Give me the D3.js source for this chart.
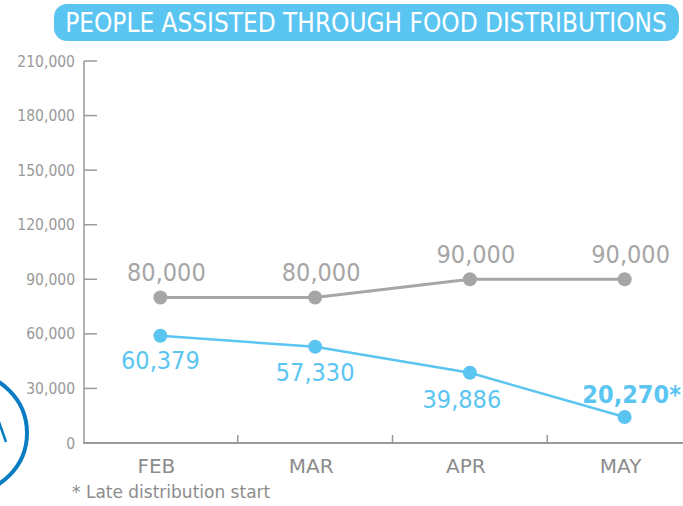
<!DOCTYPE html>
<html>
<head>
<meta charset="utf-8">
<script src="https://cdn.jsdelivr.net/npm/d3@7/dist/d3.min.js"></script>
<style>
html,body{margin:0;padding:0;background:#fff;}
svg{display:block;font-family:"DejaVu Sans Condensed","DejaVu Sans",sans-serif;}
</style>
</head>
<body>
<svg id="chart" width="683" height="506"></svg>
<script>
const title = "PEOPLE ASSISTED THROUGH FOOD DISTRIBUTIONS";
const months = ["FEB", "MAR", "APR", "MAY"];
const greyValues = [80000, 80000, 90000, 90000];
const greyLabels = ["80,000", "80,000", "90,000", "90,000"];
const blueValues = [59000, 52900, 38600, 14300];
const blueLabels = ["60,379", "57,330", "39,886", "20,270*"];
const yTicks = [0, 30000, 60000, 90000, 120000, 150000, 180000, 210000];
const footnote = "* Late distribution start";

const svg = d3.select("#chart");
const grey = "#a6a6a6", blue = "#5bc5f2", axisCol = "#9a9a9a", textGrey = "#8c8c8c";

const x = d3.scaleBand().domain(months).range([83, 702]).padding(0);
const y = d3.scaleLinear().domain([0, 210000]).range([443, 61]);

// logo fragment
svg.append("circle").attr("cx", -33).attr("cy", 433).attr("r", 60)
  .attr("fill", "none").attr("stroke", "#0a7dc2").attr("stroke-width", 4);
svg.append("line").attr("x1", -1).attr("y1", 422).attr("x2", 6).attr("y2", 442)
  .attr("stroke", "#0a7dc2").attr("stroke-width", 2.5);

// title
svg.append("rect").attr("x", 54).attr("y", 4).attr("width", 625).attr("height", 37)
  .attr("rx", 13).attr("fill", blue);
const tt = svg.append("text").attr("x", 366).attr("y", 32).attr("text-anchor", "middle")
  .attr("fill", "#fff").attr("font-size", 25).text(title);
const tw = tt.node().getComputedTextLength();
tt.attr("font-size", 25 * 602 / tw);

// y axis
const yAxis = svg.append("g");
yAxis.append("line").attr("x1", 84).attr("x2", 84).attr("y1", y(210000)).attr("y2", 443)
  .attr("stroke", axisCol).attr("stroke-width", 1.5);
yAxis.selectAll("line.tick").data(yTicks.filter(d => d > 0)).join("line")
  .attr("class", "tick").attr("x1", 84).attr("x2", 97)
  .attr("y1", d => y(d)).attr("y2", d => y(d))
  .attr("stroke", axisCol).attr("stroke-width", 1.5);
yAxis.selectAll("text").data(yTicks).join("text")
  .attr("x", 75).attr("y", d => y(d)).attr("dy", "0.36em")
  .attr("text-anchor", "end").attr("font-size", 15.5).attr("fill", "#999")
  .text(d => d3.format(",")(d));

// x axis
const xAxis = svg.append("g");
xAxis.append("line").attr("x1", 83).attr("x2", 683).attr("y1", 443).attr("y2", 443)
  .attr("stroke", axisCol).attr("stroke-width", 2);
xAxis.selectAll("line.tick").data(months.slice(1)).join("line")
  .attr("class", "tick").attr("x1", d => x(d)).attr("x2", d => x(d))
  .attr("y1", 435).attr("y2", 443).attr("stroke", axisCol).attr("stroke-width", 1.5);
xAxis.selectAll("text").data(months).join("text")
  .attr("x", d => x(d) + x.bandwidth() / 2 - 4).attr("y", 473)
  .attr("text-anchor", "middle").attr("font-size", 20)
  .attr("font-family", "'DejaVu Sans',sans-serif").attr("fill", textGrey)
  .text(d => d);

const cx = d => x(d) + x.bandwidth() / 2;
const line = d3.line().x(d => cx(d[0])).y(d => y(d[1]));

// grey series
const gData = months.map((m, i) => [m, greyValues[i]]);
svg.append("path").attr("d", line(gData)).attr("fill", "none")
  .attr("stroke", grey).attr("stroke-width", 3);
svg.selectAll("circle.g").data(gData).join("circle").attr("class", "g")
  .attr("cx", d => cx(d[0])).attr("cy", d => y(d[1])).attr("r", 7).attr("fill", grey);
svg.selectAll("text.gl").data(gData).join("text").attr("class", "gl")
  .attr("x", d => cx(d[0]) + 6).attr("y", d => y(d[1]) - 16)
  .attr("text-anchor", "middle").attr("font-size", 25).attr("fill", grey)
  .text((d, i) => greyLabels[i]);

// blue series
const bData = months.map((m, i) => [m, blueValues[i]]);
svg.append("path").attr("d", line(bData)).attr("fill", "none")
  .attr("stroke", blue).attr("stroke-width", 2.5);
svg.selectAll("circle.b").data(bData).join("circle").attr("class", "b")
  .attr("cx", d => cx(d[0])).attr("cy", d => y(d[1])).attr("r", 7).attr("fill", blue);
const bOff = [[0, 33], [0, 34], [-8, 35], [7, -14]];
svg.selectAll("text.bl").data(bData).join("text").attr("class", "bl")
  .attr("x", (d, i) => cx(d[0]) + bOff[i][0]).attr("y", (d, i) => y(d[1]) + bOff[i][1])
  .attr("text-anchor", "middle").attr("font-size", 25).attr("fill", blue)
  .attr("font-weight", (d, i) => i === 3 ? "bold" : "normal")
  .text((d, i) => blueLabels[i]);

// footnote
svg.append("text").attr("x", 72).attr("y", 498).attr("font-size", 17)
  .attr("font-family", "'DejaVu Sans',sans-serif")
  .attr("fill", textGrey).text(footnote);
</script>
</body>
</html>
